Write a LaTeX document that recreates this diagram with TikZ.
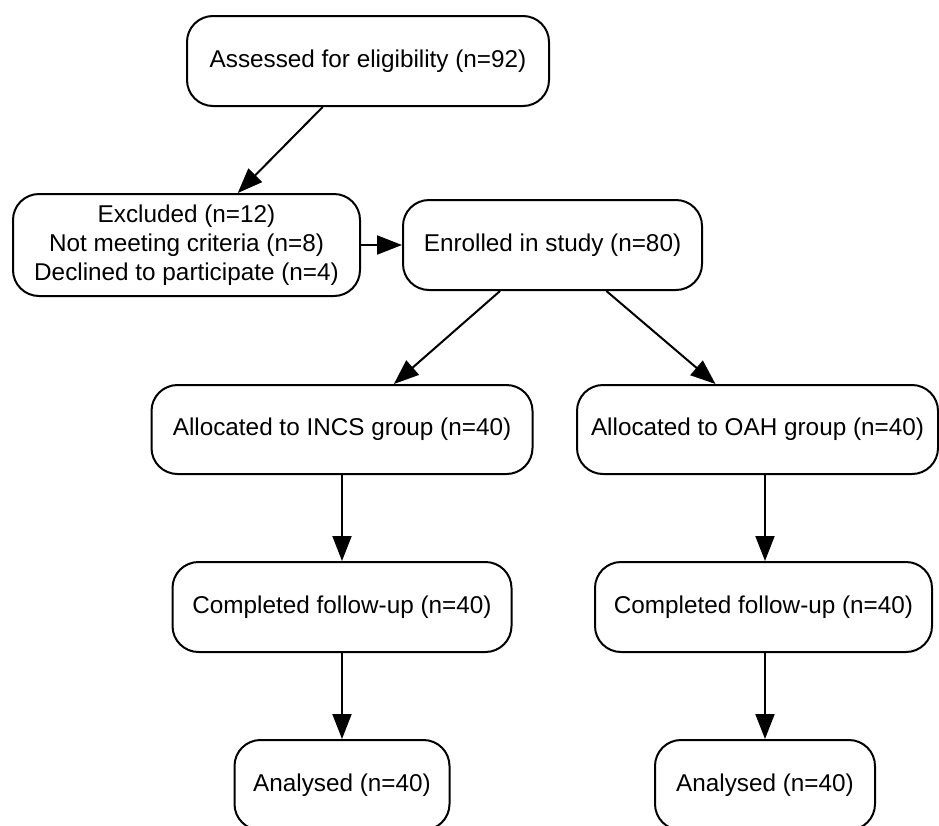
\documentclass[tikz,border=0pt]{standalone}
\usepackage{fontspec}
\setmainfont{Liberation Sans}
\usetikzlibrary{arrows.meta}
\tikzset{
  box/.style={draw, line width=2pt, rounded corners=26pt, inner sep=0pt, align=center,
    font=\fontsize{24.3}{29}\selectfont},
  conn/.style={line width=2pt, -{Triangle[length=25pt,width=19pt]}}
}
\begin{document}
\begin{tikzpicture}[x=1pt,y=-1pt]
\useasboundingbox (0,0) rectangle (939,825);
\node[box, minimum width=362pt, minimum height=90pt] (assess) at (368,61) {Assessed for eligibility (n=92)};
\node[box, minimum width=347pt, minimum height=102pt] (excl) at (186.5,245) {Excluded (n=12)\\Not meeting criteria (n=8)\\Declined to participate (n=4)};
\node[box, minimum width=299pt, minimum height=90pt] (enr) at (552.5,245) {Enrolled in study (n=80)};
\node[box, minimum width=381pt, minimum height=89pt] (incs) at (342,429.5) {Allocated to INCS group (n=40)};
\node[box, minimum width=361pt, minimum height=89pt] (oah) at (757.5,429.5) {Allocated to OAH group (n=40)};
\node[box, minimum width=339pt, minimum height=90pt] (compl) at (342,607) {Completed follow-up (n=40)};
\node[box, minimum width=337pt, minimum height=90pt] (compr) at (763.5,607) {Completed follow-up (n=40)};
\node[box, minimum width=215pt, minimum height=90pt] (anal) at (342,785) {Analysed (n=40)};
\node[box, minimum width=220pt, minimum height=90pt] (anar) at (765,785) {Analysed (n=40)};

\draw[conn] (assess) -- (excl);
\draw[conn] (excl) -- (enr);
\draw[conn] (enr) -- (incs);
\draw[conn] (enr) -- ([xshift=-42pt]oah.north);
\draw[conn] (incs) -- (compl);
\draw[conn] (compl) -- (anal);
\draw[conn] (oah.south -| anar) -- (compr.north -| anar);
\draw[conn] (compr.south -| anar) -- (anar.north);
\end{tikzpicture}
\end{document}
